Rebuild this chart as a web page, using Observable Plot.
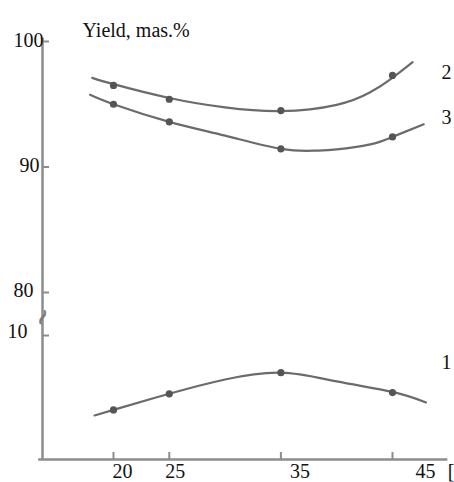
<!DOCTYPE html>
<html><head><meta charset="utf-8">
<script src="https://cdn.jsdelivr.net/npm/d3@7"></script>
<script src="https://cdn.jsdelivr.net/npm/@observablehq/plot@0.6"></script>
<style>
html,body{margin:0;padding:0;background:#fff;}
#chart svg{display:block;}
#chart g[aria-label="line"]{filter:blur(0.35px);}
</style></head><body><div id="chart"></div>
<script>
// Temperature (x) at measured points and yields (mas.%)
const temperature = [20, 25, 35, 45];
const yield1 = [4.0, 5.3, 7.0, 5.4];
const yield2 = [96.5, 95.4, 94.5, 97.3];
const yield3 = [95.0, 93.6, 91.45, 92.4];
// Fitted curves
const fitX1 = [18.3, 20, 25, 30, 35, 40, 45, 48];
const fit1 = [3.55, 4.0, 5.3, 6.45, 7.0, 6.3, 5.45, 4.6];
const fitX2 = [18.1, 20, 25, 30, 35, 40, 43, 45, 46.8];
const fit2 = [97.1, 96.6, 95.5, 94.75, 94.45, 94.95, 95.95, 97.1, 98.35];
const fitX3 = [17.9, 20, 25, 30, 35, 38, 40, 43, 45, 47.8];
const fit3 = [95.75, 95.0, 93.6, 92.5, 91.45, 91.3, 91.4, 91.8, 92.4, 93.4];
// Ticks and labels
const xTicks = [20, 25, 35, 45];
const xTickLabels = ["20", "25", "35", "45"];
const yTicks = [10, 80, 90, 100];
const yTickLabels = ["10", "80", "90", "100"];
const seriesNames = ["1", "2", "3"];
const seriesLabelX = [49.84, 49.84, 49.84];
const seriesLabelY = [7.8, 97.5, 93.95];
const yTitle = "Yield, mas.%";
const xUnit = "[";

const serif = "'Liberation Serif', 'Times New Roman', serif";
const lineColor = "#6b6b6b";
const axisColor = "#8c8c8c";
const dotColor = "#555";

const xMin = 13.64, xMax = 50;
const pts = (xs, ys) => xs.map((x, i) => ({x, y: ys[i]}));

const yLabelOffsets = {"10": [-15, -4], "80": [-9, -2], "90": [-3, -1], "100": [1, -1]};
const xLabelOffsets = {"20": 9, "25": 6, "35": 19, "45": 33};

const marks = [
  // axes
  Plot.ruleX([xMin], {y1: 0, y2: 100.25, stroke: axisColor, strokeWidth: 2.5}),
  Plot.ruleY([0], {x1: 13.3, x2: 49.96, stroke: axisColor, strokeWidth: 2.5}),
  Plot.ruleX(xTicks, {y1: 0, y2: 0.56, stroke: axisColor, strokeWidth: 2}),
  Plot.ruleY(yTicks, {x1: xMin, x2: xMin + 0.63, stroke: axisColor, strokeWidth: 2}),
  // axis break
  Plot.text(["~"], {x: xMin, y: 40, fontSize: 22, fill: "#777", stroke: "#777", strokeWidth: 0.5,
    fontFamily: "DejaVu Sans", rotate: -65}),
  // curves
  Plot.line(pts(fitX1, fit1), {x: "x", y: "y", curve: "natural", stroke: lineColor, strokeWidth: 2.2}),
  Plot.line(pts(fitX2, fit2), {x: "x", y: "y", curve: "natural", stroke: lineColor, strokeWidth: 2.2}),
  Plot.line(pts(fitX3, fit3), {x: "x", y: "y", curve: "natural", stroke: lineColor, strokeWidth: 2.2}),
  // points
  Plot.dot(pts(temperature, yield1), {x: "x", y: "y", r: 3.6, fill: dotColor, stroke: "none"}),
  Plot.dot(pts(temperature, yield2), {x: "x", y: "y", r: 3.6, fill: dotColor, stroke: "none"}),
  Plot.dot(pts(temperature, yield3), {x: "x", y: "y", r: 3.6, fill: dotColor, stroke: "none"}),
  // series labels
  Plot.text(seriesNames.map((t, i) => ({t, x: seriesLabelX[i], y: seriesLabelY[i]})),
    {x: "x", y: "y", text: "t", fontSize: 20, fontFamily: serif, fill: "#111"}),
  // y tick labels
  ...yTicks.map((v, i) => Plot.text([{v, t: yTickLabels[i]}], {
    x: () => xMin, y: "v", text: "t", textAnchor: "end",
    dx: yLabelOffsets[yTickLabels[i]][0], dy: yLabelOffsets[yTickLabels[i]][1],
    fontSize: 20, fontFamily: serif, fill: "#111"})),
  // x tick labels
  ...xTicks.map((v, i) => Plot.text([{v, t: xTickLabels[i]}], {
    x: "v", y: () => 0, text: "t", dx: xLabelOffsets[xTickLabels[i]], dy: 12,
    fontSize: 20, fontFamily: serif, fill: "#111"})),
  Plot.text([xUnit], {x: () => 49.96, y: () => 0, text: d => d, textAnchor: "start", dy: 12,
    fontSize: 20, fontFamily: serif, fill: "#111"}),
  // title
  Plot.text([yTitle], {frameAnchor: "top-left", text: d => d, textAnchor: "start", dx: 82, dy: 22,
    fontSize: 20, fontFamily: serif, fill: "#111"})
];

const chart = Plot.plot({
  width: 454,
  height: 482,
  margin: 0,
  style: {background: "#fff", overflow: "visible"},
  x: {type: "linear", domain: [xMin, xMax], range: [42, 447.8], axis: null},
  y: {type: "linear", domain: [0, 10, 80, 100], range: [459, 335, 292, 41], axis: null},
  marks
});
document.getElementById("chart").appendChild(chart);
</script></body></html>
